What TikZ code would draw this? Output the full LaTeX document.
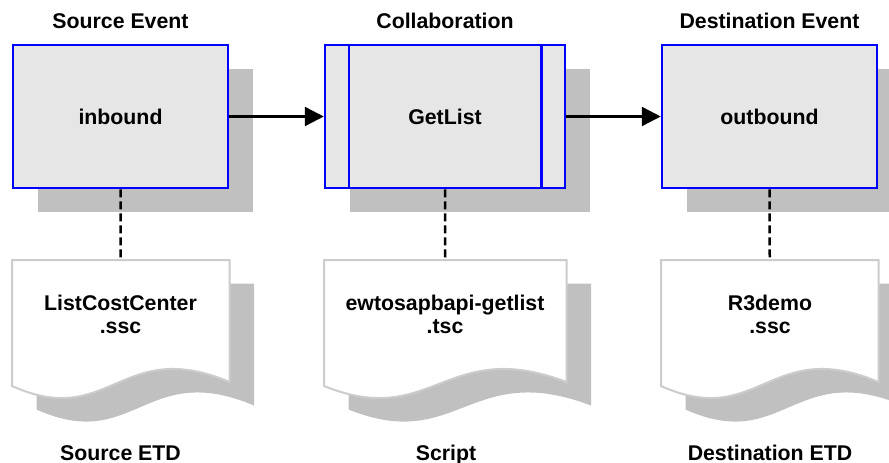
\documentclass[tikz,border=0pt]{standalone}
\usepackage{fontspec}
\setmainfont{Liberation Sans}
\usetikzlibrary{arrows.meta,shadows}
\definecolor{boxfill}{RGB}{230,230,230}
\definecolor{shadowgray}{RGB}{192,192,192}
\definecolor{docline}{RGB}{204,204,204}
\definecolor{evblue}{RGB}{0,0,255}
\newcommand\mydocshape[3]{%
  \pgfmathsetmacro\docW{#2-#1}%
  \fill[shadowgray, shift={(24.5,23.5)}] (#1,260) -- (#2,260) -- (#2,382)
    .. controls ({#1+0.5*\docW},336) and ({#1+0.45*\docW},430) .. (#1,386) -- cycle;
  \draw[docedge] (#1,260) -- (#2,260) -- (#2,382)
    .. controls ({#1+0.5*\docW},336) and ({#1+0.45*\docW},430) .. (#1,386) -- cycle;
  \coordinate (#3) at ({(#1+#2)/2},260);
}
\tikzset{
  evbox/.style={draw=evblue, line width=2.5pt, fill=boxfill, minimum height=143pt,
    inner sep=0pt, general shadow={fill=shadowgray, shadow xshift=25pt, shadow yshift=-24pt}},
  flow/.style={line width=2.5pt, -{Triangle[length=19pt,width=19pt]}},
  linkline/.style={line width=2.5pt, dash pattern=on 8pt off 4pt},
  docedge/.style={draw=docline, line width=2pt, fill=white},
  lbl/.style={anchor=base, inner sep=0pt},
  doctext/.style={anchor=base, align=center, inner sep=0pt}
}
\begin{document}
\begin{tikzpicture}[x=1pt, y=-1pt, font=\bfseries\fontsize{21.3}{23.3}\selectfont]
\useasboundingbox (0,0) rectangle (889,463);

% titles
\node[lbl] (t1) at (120.5,28.3) {Source Event};
\node[lbl] (t2) at (445,28.3) {Collaboration};
\node[lbl] (t3) at (769.5,28.3) {Destination Event};

% documents
\mydocshape{12}{229.5}{d1top}
\mydocshape{324}{566.5}{d2top}
\mydocshape{661}{878.5}{d3top}

\node[doctext] (d1) at (120.5,333.3) {ListCostCenter\\.ssc};
\node[doctext] (d2) at (445,333.3) {ewtosapbapi-getlist\\.tsc};
\node[doctext] (d3) at (770,333.3) {R3demo\\.ssc};

\node[lbl] (f1) at (120.5,460) {Source ETD};
\node[lbl] (f2) at (446,460) {Script};
\node[lbl] (f3) at (770,460) {Destination ETD};

% boxes
\node[evbox, minimum width=215pt] (b1) at (120.5,116.5) {inbound};
\node[evbox, minimum width=240pt] (b2) at (445,116.5) {GetList};
\draw[draw=evblue, line width=2.5pt] ([xshift=25pt]b2.north west) -- ([xshift=25pt]b2.south west);
\draw[draw=evblue, line width=2.5pt] ([xshift=-25pt]b2.north east) -- ([xshift=-25pt]b2.south east);
\node[evbox, minimum width=215pt] (b3) at (769.5,116.5) {outbound};

% connectors
\draw[flow] (b1) -- (b2);
\draw[flow] (b2) -- (b3);
\draw[linkline] (b1) -- (d1top);
\draw[linkline] (b2) -- (d2top);
\draw[linkline] (b3) -- (d3top);
\end{tikzpicture}
\end{document}
